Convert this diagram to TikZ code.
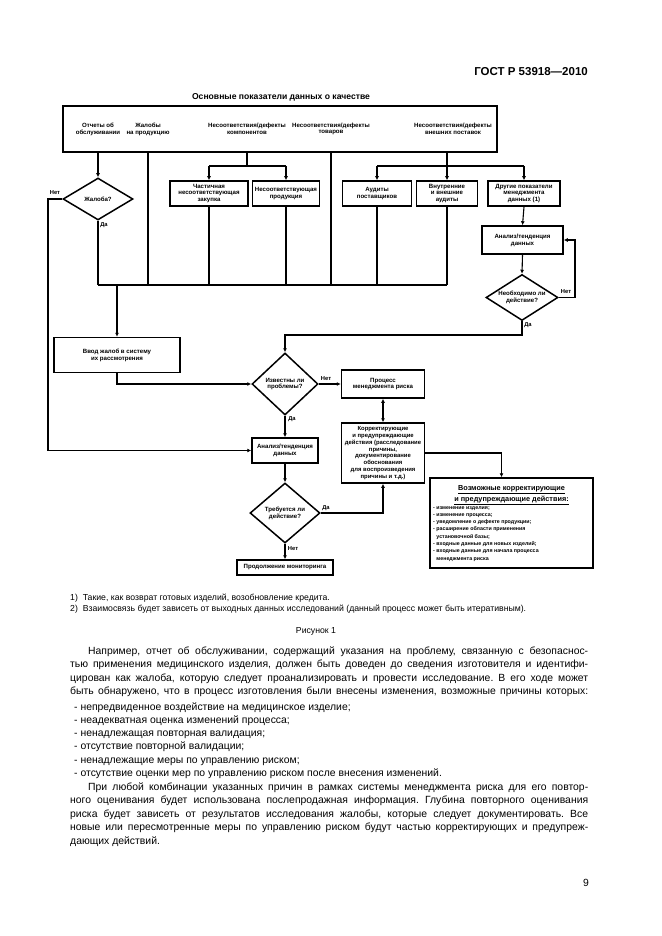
\documentclass[tikz,border=0pt]{standalone}
\usepackage{fontspec}
\setmainfont{Liberation Sans}
\usetikzlibrary{arrows.meta,shapes.geometric}
\newcommand{\jline}[4]{\node[body] (#1) at (#2) {\makebox[#3][s]{#4}};}
\frenchspacing
\begin{document}
\frenchspacing
\begin{tikzpicture}[x=1pt,y=-1pt,
  dg/.style={font=\fontsize{6.1}{6.8}\selectfont\bfseries, align=center},
  bx/.style={draw, line width=1.5pt, inner sep=1pt, dg},
  dm/.style={draw, diamond, line width=1.5pt, inner sep=0pt, dg},
  ln/.style={line width=1.1pt},
  ar/.style={ln, -{Latex[length=4pt,width=4pt]}},
  lab/.style={font=\fontsize{5.8}{6.4}\selectfont\bfseries, inner sep=0.5pt},
  body/.style={font=\fontsize{10.4}{12}\selectfont, anchor=base west, inner sep=0pt},
  foot/.style={font=\fontsize{8.7}{10}\selectfont, anchor=base west, inner sep=0pt},
]
\fill[white] (0,0) rectangle (661,936);
\useasboundingbox (0,0) rectangle (661,936);

% header
\node[font=\fontsize{11.5}{13}\selectfont\bfseries, anchor=base east, inner sep=0pt] (hdr) at (588,76) {ГОСТ Р 53918—2010};

% title and top box
\node[font=\fontsize{8.6}{10}\selectfont\bfseries] (title) at (281,97) {Основные показатели данных о качестве};
\node[draw, line width=2.5pt, minimum width=434pt, minimum height=46pt, inner sep=0pt] (top) at (280,129) {};
\node[dg] (t1) at (98,129) {Отчеты об\\обслуживании};
\node[dg] (t2) at (148,129) {Жалобы\\на продукцию};
\node[dg] (t3) at (247,129) {Несоответствия/дефекты\\компонентов};
\node[dg] (t4) at (331,129) {Несоответствия/дефекты\\товаров};
\node[dg] (t5) at (453,129) {Несоответствия/дефекты\\внешних поставок};

% row of boxes
\node[bx, minimum width=78pt, minimum height=25pt] (b1) at (209,193.5) {Частичная\\несоответствующая\\закупка};
\node[bx, minimum width=67pt, minimum height=25pt] (b2) at (286,193.5) {Несоответствующая\\продукция};
\node[bx, minimum width=69pt, minimum height=25pt] (b3) at (377,193.5) {Аудиты\\поставщиков};
\node[bx, minimum width=61pt, minimum height=25pt] (b4) at (447,193.5) {Внутренние\\и внешние\\аудиты};
\node[bx, minimum width=72pt, minimum height=25pt] (b5) at (524,193.5) {Другие показатели\\менеджмента\\данных (1)};

\coordinate (j1) at (0,166);
\coordinate (cL) at (98,285);
\coordinate (cR) at (447,285);

% complaint diamond
\node[dm, minimum width=70pt, minimum height=42pt, aspect=1.7] (d1) at (98,199) {Жалоба?};

% right analysis
\node[bx, minimum width=81pt, minimum height=28pt] (a1) at (522.5,240) {Анализ/тенденция\\данных};
\node[dm, minimum width=72pt, minimum height=46pt, aspect=1.55] (d3) at (522,297.5) {Необходимо ли\\действие?};

% complaint entry
\node[bx, minimum width=126pt, minimum height=35pt] (v) at (117,355) {Ввод жалоб в систему\\их рассмотрения};

% known issue
\node[dm, minimum width=66pt, minimum height=62pt, aspect=1.06] (d2) at (285,384) {Известны ли\\проблемы?};
\node[bx, minimum width=83pt, minimum height=28pt] (p) at (383,384) {Процесс\\менеджмента риска};
\node[bx, minimum width=83pt, minimum height=60pt, inner sep=0.5pt, font=\fontsize{5.9}{6.8}\selectfont\bfseries] (c) at (383,453) {Корректирующие\\и предупреждающие\\действия (расследование\\причины,\\документирование\\обоснования\\для воспроизведения\\причины и т.д.)};

% lower analysis
\node[bx, minimum width=66pt, minimum height=25pt] (a2) at (285,450.5) {Анализ/тенденция\\данных};
\node[dm, minimum width=70pt, minimum height=60pt, aspect=1.17] (d4) at (285,513) {Требуется ли\\действие?};
\node[bx, minimum width=96pt, minimum height=15pt] (m) at (285,567.5) {Продолжение мониторинга};

% possible actions
\node[draw, line width=1.5pt, minimum width=163pt, minimum height=90pt, inner sep=0pt] (w) at (511.5,523) {};
\node[font=\fontsize{7.3}{11.5}\selectfont\bfseries, align=center, inner sep=0pt] (wh) at (511.5,495)
  {\underline{Возможные корректирующие}\\\underline{и предупреждающие действия:}};
\node[font=\fontsize{5.3}{7.3}\selectfont\bfseries, align=left, anchor=north west, inner sep=0pt] (wl) at (433,506)
  {- изменение изделия;\\- изменение процесса;\\- уведомление о дефекте продукции;\\- расширение области применения\\\phantom{- }установочной базы;\\- входные данные для новых изделий;\\- входные данные для начала процесса\\\phantom{- }менеджмента риска};

% connectors: top group
\draw[ar] (t1 |- top.south) -- (d1.north);
\draw[ln] (d1.south) -- (d1.south |- cL);
\draw[ln] (t2 |- top.south) -- (t2 |- cL);
\draw[ln] (t4 |- top.south) -- (t4 |- cL);
\draw[ln] (t3 |- top.south) -- (t3 |- j1);
\draw[ln] (b1 |- j1) -- (b2 |- j1);
\draw[ar] (b1 |- j1) -- (b1.north);
\draw[ar] (b2 |- j1) -- (b2.north);
\draw[ln] (b4 |- top.south) -- (b4 |- j1);
\draw[ln] (b3 |- j1) -- (b5 |- j1);
\draw[ar] (b3 |- j1) -- (b3.north);
\draw[ar] (b4 |- j1) -- (b4.north);
\draw[ar] (b5 |- j1) -- (b5.north);

% collector
\draw[ln] (cL) -- (cR);
\draw[ln] (b1.south) -- (b1 |- cL);
\draw[ln] (b2.south) -- (b2 |- cL);
\draw[ln] (b3.south) -- (b3 |- cL);
\draw[ln] (b4.south) -- (b4 |- cL);
\draw[ar] (v |- cL) -- (v.north);

% complaint no
\coordinate (nL) at (48,199);
\draw[ar] (d1.west) -- (nL) |- (a2.west);
\node[lab] (l1) at (55,193) {Нет};
\node[lab] (l2) at (104,225) {Да};

% right side
\draw[ar] (b5.south) -- (a1.north);
\draw[ar] (a1.south) -- (d3.north);
\coordinate (nR) at (575,240);
\draw[ar] (d3.east) -| (nR) -- (a1.east);
\node[lab] (l3) at (566,292) {Нет};
\coordinate (y3) at (0,335);
\draw[ar] (d3.south) -- (d3.south |- y3) -- (d2.north |- y3) -- (d2.north);
\node[lab] (l4) at (528,325) {Да};

% middle
\draw[ar] (v.south) |- (d2.west);
\draw[ar] (d2.east) -- (p.west);
\node[lab] (l5) at (326,379) {Нет};
\draw[ln, {Latex[length=4pt,width=4pt]}-{Latex[length=4pt,width=4pt]}] (p.south) -- (c.north);
\draw[ar] (d2.south) -- (a2.north);
\node[lab] (l6) at (292,419) {Да};
\draw[ar] (a2.south) -- (d4.north);
\draw[ar] (d4.east) -| (c.south);
\node[lab] (l7) at (326,508) {Да};
\draw[ar] (d4.south) -- (m.north);
\node[lab] (l8) at (293,549) {Нет};
\draw[ar] (c.east) -| ([xshift=-10pt]w.north);

% footnotes and caption
\node[foot] (f1) at (70,600) {1)\ \ Такие, как возврат готовых изделий, возобновление кредита.};
\node[foot] (f2) at (70,611.5) {2)\ \ Взаимосвязь будет зависеть от выходных данных исследований (данный процесс может быть итеративным).};
\node[font=\fontsize{8.7}{10}\selectfont, inner sep=0pt] (cap) at (316,631) {Рисунок 1};

% body text
\jline{p1}{88,654}{500pt}{Например, отчет об обслуживании, содержащий указания на проблему, связанную с безопаснос-}
\jline{p2}{70,667.5}{518pt}{тью применения медицинского изделия, должен быть доведен до сведения изготовителя и идентифи-}
\jline{p3}{70,681}{518pt}{цирован как жалоба, которую следует проанализировать и провести исследование. В его ходе может}
\jline{p4}{70,694.5}{518pt}{быть обнаружено, что в процесс изготовления были внесены изменения, возможные причины которых:}
\node[body] (q1) at (74,710) {- непредвиденное воздействие на медицинское изделие;};
\node[body] (q2) at (74,723.3) {- неадекватная оценка изменений процесса;};
\node[body] (q3) at (74,736.6) {- ненадлежащая повторная валидация;};
\node[body] (q4) at (74,749.9) {- отсутствие повторной валидации;};
\node[body] (q5) at (74,763.2) {- ненадлежащие меры по управлению риском;};
\node[body] (q6) at (74,776.5) {- отсутствие оценки мер по управлению риском после внесения изменений.};
\jline{r1}{88,790}{500pt}{При любой комбинации указанных причин в рамках системы менеджмента риска для его повтор-}
\jline{r2}{70,803.5}{518pt}{ного оценивания будет использована послепродажная информация. Глубина повторного оценивания}
\jline{r3}{70,817}{518pt}{риска будет зависеть от результатов исследования жалобы, которые следует документировать. Все}
\jline{r4}{70,830.5}{518pt}{новые или пересмотренные меры по управлению риском будут частью корректирующих и предупреж-}
\node[body] (r5) at (70,844) {дающих действий.};

\node[font=\fontsize{10.4}{12}\selectfont, anchor=base east, inner sep=0pt] (pg) at (589,886) {9};
\end{tikzpicture}
\end{document}
